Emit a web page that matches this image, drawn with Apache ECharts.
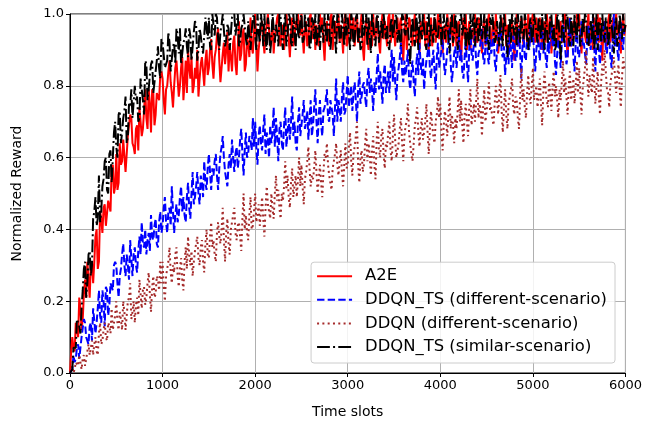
<!DOCTYPE html>
<html>
<head>
<meta charset="utf-8">
<script src="https://cdn.jsdelivr.net/npm/echarts@6/dist/echarts.min.js"></script>
<style>
  html, body { margin: 0; padding: 0; background: #fff; }
  #chart { width: 645px; height: 424px; }
</style>
</head>
<body>
<div id="chart"></div>
<script>
// one sample every 12.5 time slots, 0..6000
const SLOT_STEP = 12.5;
const xTicks = [0, 1000, 2000, 3000, 4000, 5000, 6000];
const yTicks = [0.0, 0.2, 0.4, 0.6, 0.8, 1.0];

const seriesNames = [
  "A2E",
  "DDQN_TS (different-scenario)",
  "DDQN (different-scenario)",
  "DDQN_TS (similar-scenario)"
];

const a2e = [
  0.00,0.06,0.10,0.07,0.06,0.14,0.14,0.10,0.21,0.18,0.12,0.15,0.22,0.26,0.21,0.31,0.31,0.21,0.30,0.31,
  0.25,0.31,0.38,0.40,0.29,0.31,0.45,0.43,0.39,0.46,0.47,0.41,0.41,0.48,0.48,0.45,0.57,0.58,0.50,0.52,
  0.61,0.51,0.53,0.64,0.58,0.59,0.65,0.65,0.56,0.56,0.66,0.66,0.72,0.71,0.64,0.63,0.61,0.68,0.69,0.62,
  0.74,0.74,0.66,0.68,0.73,0.79,0.71,0.68,0.79,0.75,0.67,0.79,0.78,0.69,0.72,0.78,0.77,0.76,0.83,0.84,
  0.82,0.76,0.72,0.79,0.80,0.84,0.87,0.81,0.78,0.74,0.80,0.85,0.87,0.82,0.77,0.80,0.85,0.88,0.76,0.81,
  0.87,0.78,0.90,0.85,0.82,0.88,0.78,0.80,0.85,0.82,0.90,0.77,0.82,0.86,0.88,0.84,0.80,0.87,0.90,0.83,
  0.85,0.90,0.93,0.86,0.82,0.88,0.90,0.94,0.96,0.87,0.81,0.85,0.89,0.92,0.86,0.90,0.95,0.84,0.91,0.88,
  0.84,0.92,0.94,0.86,0.83,0.91,0.98,0.87,0.89,0.94,0.96,0.84,0.86,0.93,0.92,0.88,0.99,0.91,0.89,0.95,
  1.00,0.92,0.84,0.90,0.93,0.97,0.98,0.93,0.89,0.95,0.97,1.00,1.00,0.91,0.93,0.98,0.89,0.94,0.96,0.99,
  1.00,0.93,0.91,0.96,0.97,0.90,0.94,1.00,1.00,0.93,0.88,0.95,0.99,0.91,0.93,0.98,0.96,1.00,1.00,0.94,
  1.00,0.94,0.89,0.96,0.98,0.91,0.92,0.99,1.00,0.93,0.96,0.98,0.90,0.97,0.93,0.91,1.00,0.95,0.99,0.92,
  0.87,0.96,0.98,0.93,0.91,0.99,1.00,0.90,0.95,0.98,0.93,0.96,1.00,0.92,0.97,0.94,0.89,0.98,1.00,0.91,
  0.92,0.98,1.00,0.93,0.96,0.99,0.91,0.96,1.00,0.92,0.93,0.97,1.00,0.91,0.87,0.95,0.99,0.93,0.90,0.98,
  0.97,0.91,1.00,0.94,0.93,0.99,0.96,0.92,0.89,0.97,1.00,0.93,0.98,0.95,0.91,0.99,1.00,0.92,0.94,1.00,
  1.00,0.91,0.96,0.99,0.93,0.97,0.99,0.92,0.87,0.95,1.00,0.90,0.94,0.99,0.98,0.93,0.91,0.97,1.00,0.92,
  0.97,0.94,0.89,0.98,0.93,0.96,1.00,0.91,0.98,0.94,0.90,0.97,0.99,0.91,0.95,0.99,0.92,0.96,1.00,0.93,
  0.99,0.94,0.89,0.95,0.97,0.92,1.00,0.96,0.93,0.99,0.95,0.91,1.00,0.95,0.91,0.97,0.98,0.92,0.87,0.95,
  0.99,0.93,1.00,0.90,0.93,0.98,0.90,0.95,0.96,0.92,1.00,0.94,0.92,0.99,0.98,0.93,0.89,0.96,0.99,0.91,
  0.94,0.98,1.00,0.94,0.91,0.96,0.98,0.92,1.00,0.95,0.89,0.93,0.96,0.99,0.93,0.97,1.00,0.91,0.97,0.94,
  0.90,0.96,0.99,0.92,0.87,0.95,1.00,0.91,0.93,0.97,0.99,0.94,0.91,0.99,0.96,0.92,1.00,0.95,0.92,0.98,
  1.00,0.95,0.92,0.99,0.95,0.91,0.99,0.94,0.90,0.96,0.98,0.92,1.00,0.97,0.93,0.99,0.89,0.94,0.97,0.92,
  1.00,0.95,0.91,0.97,0.98,0.92,0.94,0.99,1.00,0.93,0.88,0.95,0.99,0.91,0.93,0.98,0.96,0.93,1.00,0.96,
  1.00,0.93,0.89,0.95,0.98,0.94,0.92,0.97,1.00,0.91,0.96,0.93,0.90,0.99,0.93,0.97,1.00,0.92,0.99,0.94,
  0.87,0.96,0.98,0.93,0.91,0.98,1.00,0.92,0.95,0.99,0.93,0.97,1.00,0.94,0.97,0.92,0.89,0.96,1.00,0.94,
  0.97
];

const ddqnTsDifferent = [
  0.00,0.00,0.01,0.05,0.03,0.04,0.07,0.08,0.04,0.04,0.10,0.10,0.15,0.14,0.10,0.09,0.08,0.13,0.14,0.09,
  0.18,0.18,0.11,0.14,0.18,0.23,0.16,0.14,0.23,0.20,0.13,0.24,0.23,0.16,0.19,0.25,0.24,0.23,0.30,0.31,
  0.30,0.25,0.21,0.27,0.29,0.33,0.36,0.30,0.27,0.33,0.30,0.26,0.37,0.32,0.27,0.33,0.35,0.30,0.28,0.34,
  0.38,0.33,0.42,0.36,0.35,0.40,0.33,0.37,0.39,0.34,0.44,0.38,0.37,0.41,0.43,0.36,0.35,0.42,0.45,0.39,
  0.41,0.46,0.49,0.42,0.39,0.45,0.46,0.41,0.52,0.45,0.39,0.44,0.47,0.42,0.44,0.49,0.52,0.45,0.49,0.44,
  0.42,0.49,0.53,0.46,0.43,0.50,0.56,0.47,0.49,0.52,0.56,0.50,0.47,0.55,0.53,0.49,0.59,0.53,0.51,0.57,
  0.61,0.56,0.51,0.57,0.55,0.59,0.61,0.55,0.51,0.57,0.61,0.63,0.66,0.60,0.56,0.54,0.52,0.58,0.61,0.57,
  0.65,0.60,0.56,0.61,0.63,0.57,0.60,0.65,0.68,0.61,0.55,0.62,0.67,0.60,0.61,0.66,0.65,0.62,0.71,0.63,
  0.70,0.63,0.58,0.66,0.69,0.64,0.62,0.68,0.72,0.61,0.67,0.65,0.60,0.69,0.64,0.67,0.74,0.63,0.71,0.66,
  0.59,0.68,0.70,0.64,0.62,0.69,0.74,0.63,0.67,0.71,0.65,0.70,0.77,0.66,0.70,0.64,0.62,0.70,0.74,0.66,
  0.66,0.72,0.76,0.68,0.70,0.73,0.65,0.71,0.76,0.66,0.69,0.74,0.79,0.70,0.64,0.72,0.76,0.69,0.66,0.73,
  0.74,0.76,0.79,0.71,0.70,0.76,0.74,0.72,0.66,0.74,0.82,0.70,0.76,0.74,0.70,0.77,0.81,0.72,0.73,0.78,
  0.83,0.74,0.77,0.80,0.73,0.78,0.81,0.76,0.70,0.79,0.84,0.75,0.77,0.80,0.81,0.77,0.74,0.82,0.85,0.78,
  0.82,0.79,0.73,0.81,0.78,0.83,0.89,0.79,0.84,0.80,0.75,0.83,0.86,0.78,0.81,0.84,0.78,0.85,0.90,0.81,
  0.88,0.81,0.76,0.83,0.85,0.88,0.92,0.84,0.81,0.87,0.83,0.86,0.90,0.82,0.79,0.84,0.87,0.81,0.77,0.85,
  0.89,0.83,0.92,0.86,0.83,0.88,0.79,0.84,0.87,0.89,0.92,0.85,0.82,0.87,0.90,0.84,0.79,0.88,0.92,0.85,
  0.85,0.90,0.93,0.87,0.83,0.86,0.90,0.92,0.96,0.86,0.81,0.85,0.89,0.91,0.85,0.89,0.94,0.87,0.90,0.84,
  0.82,0.88,0.93,0.86,0.81,0.90,0.96,0.89,0.87,0.92,0.94,0.86,0.83,0.89,0.90,0.93,0.96,0.88,0.86,0.91,
  0.97,0.88,0.86,0.93,0.89,0.91,0.95,0.87,0.84,0.90,0.93,0.95,0.98,0.89,0.88,0.91,0.83,0.88,0.92,0.86,
  0.96,0.90,0.85,0.94,0.92,0.87,0.88,0.93,0.96,0.89,0.82,0.91,0.94,0.88,0.87,0.94,0.91,0.90,0.97,0.92,
  0.96,0.89,0.84,0.90,0.94,0.91,0.87,0.93,0.97,0.89,0.92,0.88,0.85,0.93,0.89,0.94,0.98,0.91,0.95,0.87,
  0.83,0.89,0.93,0.90,0.85,0.92,0.97,0.94,0.90,0.86,0.88,0.93,0.99,0.91,0.93,0.88,0.84,0.92,0.96,0.89,
  0.88,0.94,0.98,0.91,0.92,0.89,0.86,0.93,0.97,0.92,0.90,0.95,0.99,0.91,0.84,0.93,0.96,0.90,0.86,0.92,
  0.94,0.96,0.98,0.90,0.89,0.95,0.93,0.88,0.85,0.93,1.00,0.91,0.94,0.90,0.87,0.95,0.98,0.92,0.90,0.96,
  0.95
];

const ddqnDifferent = [
  0.00,0.01,0.02,0.00,0.01,0.03,0.03,0.02,0.05,0.03,0.01,0.04,0.05,0.02,0.04,0.06,0.08,0.05,0.07,0.09,
  0.05,0.08,0.10,0.06,0.05,0.11,0.14,0.08,0.09,0.12,0.14,0.10,0.09,0.14,0.13,0.11,0.18,0.12,0.12,0.16,
  0.20,0.14,0.12,0.17,0.15,0.12,0.20,0.17,0.12,0.16,0.20,0.21,0.25,0.15,0.17,0.20,0.14,0.19,0.21,0.16,
  0.26,0.22,0.18,0.23,0.24,0.19,0.21,0.25,0.28,0.22,0.17,0.24,0.27,0.21,0.22,0.27,0.26,0.23,0.31,0.25,
  0.31,0.24,0.20,0.27,0.29,0.31,0.35,0.28,0.25,0.30,0.28,0.33,0.35,0.27,0.24,0.29,0.32,0.26,0.23,0.31,
  0.35,0.29,0.38,0.33,0.30,0.34,0.27,0.31,0.34,0.36,0.38,0.32,0.30,0.35,0.37,0.31,0.28,0.36,0.40,0.33,
  0.32,0.38,0.42,0.35,0.37,0.33,0.31,0.39,0.42,0.38,0.36,0.40,0.46,0.37,0.31,0.39,0.43,0.36,0.33,0.40,
  0.42,0.44,0.46,0.39,0.37,0.41,0.42,0.38,0.34,0.43,0.50,0.40,0.44,0.39,0.37,0.44,0.49,0.40,0.41,0.45,
  0.50,0.42,0.44,0.47,0.41,0.45,0.49,0.43,0.38,0.46,0.52,0.47,0.45,0.43,0.50,0.46,0.43,0.50,0.55,0.48,
  0.51,0.46,0.43,0.50,0.48,0.52,0.59,0.51,0.55,0.49,0.46,0.53,0.57,0.49,0.52,0.55,0.49,0.54,0.60,0.52,
  0.58,0.52,0.47,0.54,0.56,0.59,0.63,0.57,0.52,0.55,0.54,0.57,0.62,0.56,0.50,0.54,0.58,0.53,0.49,0.56,
  0.61,0.60,0.64,0.58,0.55,0.53,0.51,0.57,0.59,0.61,0.64,0.58,0.55,0.59,0.62,0.56,0.52,0.58,0.64,0.57,
  0.58,0.63,0.67,0.59,0.55,0.61,0.63,0.66,0.70,0.58,0.53,0.60,0.62,0.56,0.58,0.64,0.68,0.59,0.64,0.61,
  0.55,0.62,0.66,0.58,0.54,0.65,0.70,0.62,0.60,0.66,0.68,0.61,0.57,0.64,0.63,0.67,0.70,0.62,0.59,0.66,
  0.72,0.65,0.60,0.62,0.64,0.68,0.71,0.64,0.59,0.66,0.69,0.70,0.75,0.67,0.64,0.61,0.59,0.64,0.69,0.71,
  0.74,0.67,0.63,0.68,0.71,0.65,0.67,0.70,0.75,0.67,0.61,0.68,0.73,0.69,0.66,0.64,0.70,0.72,0.77,0.71,
  0.75,0.67,0.62,0.69,0.73,0.70,0.66,0.72,0.77,0.68,0.72,0.69,0.64,0.71,0.68,0.73,0.79,0.70,0.76,0.69,
  0.64,0.72,0.75,0.70,0.66,0.74,0.79,0.69,0.72,0.75,0.70,0.76,0.82,0.71,0.75,0.73,0.66,0.74,0.79,0.70,
  0.70,0.76,0.81,0.73,0.74,0.71,0.69,0.75,0.80,0.76,0.72,0.78,0.83,0.73,0.67,0.74,0.79,0.72,0.68,0.75,
  0.77,0.79,0.82,0.74,0.72,0.77,0.76,0.71,0.68,0.77,0.85,0.76,0.79,0.74,0.71,0.78,0.83,0.77,0.75,0.80,
  0.85,0.76,0.78,0.80,0.74,0.77,0.82,0.75,0.69,0.78,0.84,0.79,0.76,0.74,0.81,0.78,0.73,0.80,0.84,0.77,
  0.80,0.76,0.71,0.79,0.76,0.81,0.87,0.78,0.82,0.77,0.72,0.80,0.84,0.76,0.78,0.82,0.75,0.80,0.87,0.78,
  0.85,0.78,0.72,0.79,0.82,0.85,0.90,0.82,0.77,0.83,0.80,0.78,0.88,0.81,0.75,0.80,0.84,0.77,0.72,0.81,
  0.86,0.83,0.90,0.84,0.79,0.78,0.74,0.81,0.83,0.85,0.88,0.82,0.78,0.83,0.86,0.79,0.74,0.82,0.88,0.85,
  0.84
];

const ddqnTsSimilar = [
  0.00,0.00,0.01,0.07,0.07,0.07,0.15,0.15,0.13,0.11,0.18,0.23,0.29,0.31,0.21,0.25,0.33,0.34,0.27,0.30,
  0.43,0.45,0.49,0.41,0.43,0.55,0.42,0.45,0.52,0.54,0.59,0.60,0.51,0.50,0.61,0.62,0.53,0.60,0.67,0.70,
  0.63,0.60,0.72,0.73,0.64,0.67,0.71,0.73,0.77,0.64,0.66,0.75,0.74,0.79,0.71,0.71,0.80,0.76,0.77,0.70,
  0.71,0.82,0.82,0.76,0.72,0.87,0.86,0.76,0.79,0.83,0.86,0.87,0.78,0.78,0.84,0.87,0.91,0.85,0.82,0.93,
  0.92,0.92,0.85,0.86,0.87,0.95,0.92,0.84,0.84,0.91,0.92,0.86,0.96,0.94,0.89,0.96,0.86,0.86,0.92,0.93,
  0.96,0.91,0.88,0.96,0.94,0.87,0.91,0.95,0.98,0.97,0.87,0.90,0.96,0.94,0.91,0.89,0.94,0.99,0.99,0.93,
  0.99,0.91,0.90,1.00,0.97,0.94,1.00,0.99,0.93,0.90,0.95,0.97,1.00,1.00,0.91,0.93,0.97,0.96,0.90,0.90,
  0.99,0.99,1.00,0.94,0.94,1.00,0.91,0.92,0.96,0.97,1.00,1.00,0.93,0.91,0.98,0.98,0.90,0.95,0.99,1.00,
  0.94,0.90,1.00,0.95,0.92,1.00,0.97,0.91,1.00,0.93,0.90,0.99,0.96,0.89,0.93,1.00,1.00,0.92,0.97,0.95,
  0.91,1.00,0.99,0.93,0.90,0.97,1.00,0.91,0.94,1.00,0.99,0.92,0.91,1.00,0.96,0.90,1.00,0.95,0.93,0.98,
  1.00,0.92,0.93,1.00,0.95,0.97,0.99,0.90,0.91,0.99,0.98,0.93,1.00,0.91,0.94,1.00,0.90,0.96,0.97,0.92,
  1.00,0.95,0.92,1.00,0.97,0.90,0.94,0.98,1.00,0.93,0.89,1.00,0.99,0.92,0.93,1.00,0.96,0.91,1.00,0.94,
  0.99,0.95,0.90,1.00,0.98,0.91,0.93,0.99,1.00,0.92,0.96,0.90,0.91,1.00,0.94,0.97,1.00,0.91,0.99,0.94,
  0.89,1.00,0.97,0.93,0.91,0.99,1.00,0.92,0.95,0.98,0.93,1.00,1.00,0.93,0.97,0.91,0.90,0.97,0.99,0.93,
  0.93,0.99,1.00,0.92,0.96,0.93,0.91,1.00,0.99,0.95,0.94,1.00,1.00,0.92,0.86,0.96,0.99,0.94,0.91,1.00,
  0.97,0.90,1.00,0.95,0.93,1.00,0.96,0.92,0.90,0.99,1.00,0.91,0.97,0.96,0.92,1.00,1.00,0.93,0.94,0.98,
  1.00,0.91,0.96,1.00,0.93,0.97,0.99,0.93,0.89,0.98,1.00,0.92,0.94,1.00,0.97,0.90,0.92,0.99,1.00,0.94,
  0.97,1.00,0.90,0.96,0.94,0.91,1.00,0.93,0.98,1.00,0.91,0.97,0.99,0.92,0.95,1.00,0.93,0.96,1.00,0.92,
  0.99,0.94,0.90,0.99,0.97,1.00,1.00,0.92,0.93,0.98,0.95,0.91,1.00,0.95,0.91,1.00,0.97,0.93,0.88,0.96,
  0.99,0.92,1.00,0.97,0.94,0.99,0.91,1.00,0.96,0.92,1.00,0.95,0.93,1.00,0.98,0.93,0.90,0.97,0.99,0.92,
  0.94,1.00,1.00,0.95,0.92,0.99,0.97,0.93,1.00,0.94,0.90,1.00,0.96,0.92,0.93,0.99,1.00,0.93,0.97,0.90,
  0.91,1.00,0.99,0.94,0.87,0.96,1.00,0.92,0.94,1.00,0.99,0.93,0.91,0.99,0.96,0.91,1.00,0.95,0.93,1.00,
  1.00,0.91,0.93,0.99,0.95,1.00,0.99,0.92,0.91,0.96,0.98,0.93,1.00,0.90,0.94,1.00,0.90,0.98,0.97,0.92,
  1.00,0.95,0.92,0.99,0.97,0.91,0.94,1.00,1.00,0.94,0.89,0.97,0.99,0.91,0.93,1.00,0.96,0.93,1.00,0.95,
  0.97
];

const seriesValues = [a2e, ddqnTsDifferent, ddqnDifferent, ddqnTsSimilar];
const colors = ["#ff0000", "#0000ff", "#a52a2a", "#000000"];
const dashes = ["solid", [7.4, 3.2], [2, 3.3], [12.8, 3.2, 2, 3.2]];

const FONT = "DejaVu Sans";

const chart = echarts.init(document.getElementById("chart"), null, { renderer: "canvas" });

const option = {
  animation: false,
  backgroundColor: "#fff",
  textStyle: { fontFamily: FONT, color: "#000" },
  grid: {
    left: 70, right: 19, top: 14, bottom: 51,
    show: true, borderColor: "#000", borderWidth: 1
  },
  legend: {
    data: seriesNames,
    orient: "vertical",
    right: 30,
    bottom: 61,
    itemWidth: 35,
    itemHeight: 14,
    itemGap: 7.6,
    padding: [6, 8, 8, 5],
    backgroundColor: "rgba(255,255,255,0.85)",
    borderColor: "#cccccc",
    borderWidth: 1,
    borderRadius: 3,
    itemStyle: { color: "rgba(0,0,0,0)", borderColor: "rgba(0,0,0,0)", borderWidth: 0, opacity: 0 },
    textStyle: { fontFamily: FONT, fontSize: 16.4, lineHeight: 16, color: "#000", padding: [0, 0, 0, 8] }
  },
  xAxis: {
    type: "value",
    min: xTicks[0],
    max: xTicks[xTicks.length - 1],
    interval: 1000,
    name: "Time slots",
    nameLocation: "middle",
    nameGap: 32,
    nameTextStyle: { fontFamily: FONT, fontSize: 14, color: "#000" },
    axisLine: { show: true, lineStyle: { color: "#000", width: 1 } },
    axisTick: { show: true, inside: false, length: 4, lineStyle: { color: "#000" } },
    axisLabel: {
      fontFamily: FONT, fontSize: 13, color: "#000", margin: 6,
      formatter: (v) => String(v)
    },
    splitLine: { show: true, lineStyle: { color: "#b0b0b0", width: 1 } }
  },
  yAxis: {
    type: "value",
    min: yTicks[0],
    max: yTicks[yTicks.length - 1],
    interval: 0.2,
    name: "Normalized Reward",
    nameLocation: "middle",
    nameGap: 46,
    nameTextStyle: { fontFamily: FONT, fontSize: 14, color: "#000" },
    axisLine: { show: true, lineStyle: { color: "#000", width: 1 } },
    axisTick: { show: true, inside: false, length: 4, lineStyle: { color: "#000" } },
    axisLabel: {
      fontFamily: FONT, fontSize: 13, color: "#000", margin: 6,
      formatter: (v) => v.toFixed(1)
    },
    splitLine: { show: true, lineStyle: { color: "#b0b0b0", width: 1 } }
  },
  series: seriesNames.map((name, k) => ({
    name: name,
    type: "line",
    data: seriesValues[k].map((v, i) => [i * SLOT_STEP, v]),
    showSymbol: false,
    symbol: "none",
    clip: true,
    itemStyle: { color: colors[k] },
    lineStyle: { color: colors[k], width: 2, type: dashes[k] }
  }))
};

chart.setOption(option);
</script>
</body>
</html>
